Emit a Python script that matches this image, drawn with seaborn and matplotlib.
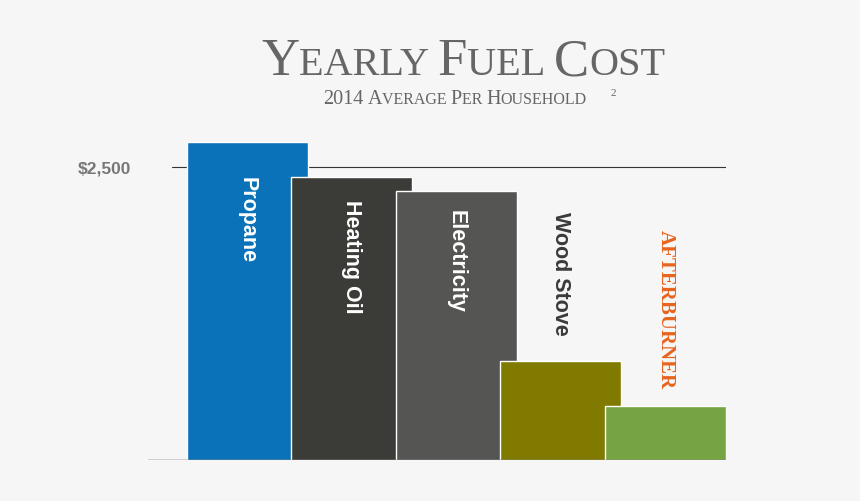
import matplotlib
matplotlib.use("Agg")
import matplotlib.pyplot as plt
import seaborn as sns
import pandas as pd

categories = ["Propane", "Heating Oil", "Electricity", "Wood Stove", "AFTERBURNER"]
values = [2713, 2415, 2295, 845, 461]
colors = ["#0a72b8", "#3b3c38", "#555553", "#807a00", "#76a443"]

sns.set_theme(style="white")
plt.rcParams["font.family"] = ["Liberation Sans", "DejaVu Sans"]
BG = "#f6f6f6"
fig = plt.figure(figsize=(8.6, 5.02), dpi=100, facecolor=BG)
ax = fig.add_axes([148/860, 41/502, 578/860, 351.6/502], facecolor=BG)
df = pd.DataFrame({"cat": categories, "val": values})
sns.barplot(data=df, x="cat", y="val", hue="cat", palette=colors, width=1.158,
            legend=False, ax=ax, saturation=1, zorder=3)
ax.set_xlim(-0.952, 4.579)
ax.set_ylim(0, 3000)
for s in ax.spines.values():
    s.set_visible(False)
ax.axhline(0, color="#333333", lw=1, zorder=4)
ax.axhline(2500, xmin=24/578, xmax=1, color="#333333", lw=0.8, zorder=1)
ax.set_xticks([])
ax.set_yticks([2500], ["$2,500"])
ax.tick_params(axis="y", length=0, pad=12, labelsize=12.5, labelcolor="#777777")
for t in ax.get_yticklabels():
    t.set_fontweight("bold")
ax.set_xlabel(""); ax.set_ylabel("")

label_tops = [2423, 2227, 2142, 2125, 1970]
for i, (c, v) in enumerate(zip(categories, values)):
    if i < 3:
        ax.text(i, label_tops[i], c, rotation=-90, ha="center", va="top", color="white",
                fontsize=15.5, fontweight="bold", zorder=5)
    elif i == 3:
        ax.text(i, label_tops[i], c, rotation=-90, ha="center", va="top", color="#3a3a3a",
                fontsize=15.5, fontweight="bold", zorder=5)
    else:
        ax.text(i, label_tops[i], c, rotation=-90, ha="center", va="top", color="#e8641e",
                fontsize=15, fontweight="bold", family="Liberation Serif", zorder=5)

def small_caps(text, xc, y, big, small, color):
    r = fig.canvas.get_renderer()
    pieces = []
    for word_i, word in enumerate(text.split(" ")):
        if word_i:
            pieces.append((" ", small))
        for ch in word:
            if ch.isupper() or ch.isdigit():
                pieces.append((ch, big))
            else:
                pieces.append((ch.upper(), small))
    # merge consecutive same size
    merged = []
    for ch, sz in pieces:
        if merged and merged[-1][1] == sz:
            merged[-1][0] += ch
        else:
            merged.append([ch, sz])
    arts = []
    for s, sz in merged:
        t = fig.text(0, y, s, fontsize=sz, color=color, family="Liberation Serif",
                     va="baseline", ha="left")
        arts.append(t)
    widths = [a.get_window_extent(r).width / fig.bbox.width for a in arts]
    x = xc - sum(widths) / 2
    for a, w in zip(arts, widths):
        a.set_x(x); x += w

small_caps("Yearly Fuel Cost", 463/860, 1 - 75/502, 38, 29, "#666666")
small_caps("2014 Average Per Household", 455/860, 1 - 104/502, 14.5, 11.5, "#666666")
fig.text(611/860, 1 - 96/502, "2", fontsize=8, color="#666666", family="Liberation Serif")

fig.savefig("out.png", dpi=100, facecolor=BG)
